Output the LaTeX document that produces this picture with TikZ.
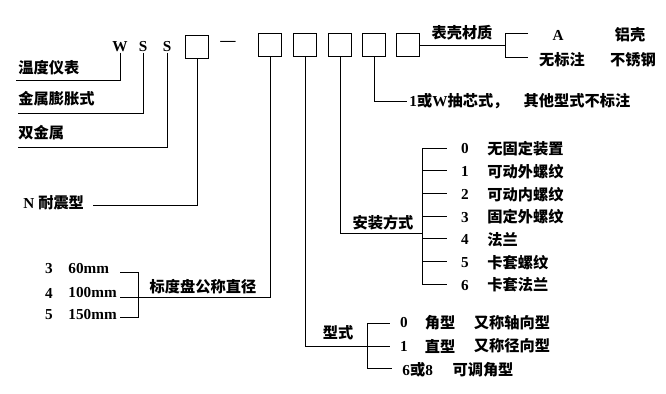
\documentclass[tikz,border=0pt]{standalone}
\usepackage{fontspec}
\setmainfont{Liberation Serif}
\newfontfamily\cjk{Noto Sans CJK SC}
\newcommand\zh[1]{{\cjk #1}}

\begin{document}
\begin{tikzpicture}[x=0.03cm,y=-0.03cm,line width=0.8pt,
  slot/.style={draw,minimum width=0.69cm,minimum height=0.68cm,inner sep=0pt},
  lbl/.style={inner sep=0pt,font=\fontsize{13}{15}\selectfont\bfseries}]
\useasboundingbox (0,0) rectangle (666,394);

% model code
\node[lbl] (w) at (120,47) {W};
\node[lbl] (s1) at (143,47) {S};
\node[lbl] (s2) at (167,47) {S};
\node[slot] (b0) at (197,47) {};
\node[lbl] (dash) at (228,43) {—};
\foreach \i/\x in {1/270,2/305,3/340,4/374,5/408}
  \node[slot] (b\i) at (\x,45) {};

% left side
\node[lbl,anchor=west] (wdyb) at (18,68) {\zh{温度仪表}};
\node[lbl,anchor=west] (jspz) at (18,99) {\zh{金属膨胀式}};
\node[lbl,anchor=west] (sjs) at (18,133) {\zh{双金属}};
\coordinate (c1) at (16,80);
\coordinate (c2) at (18,113);
\coordinate (c3) at (18,147);
\draw (w.south) |- (c1);
\draw (s1.south) |- (c2);
\draw (s2.south) |- (c3);

\node[lbl,anchor=west] (nzx) at (23,203) {N\ \zh{耐震型}};
\coordinate (nzxe) at (93,205);
\draw (b0.south) |- (nzxe);

% dial size
\node[lbl] (bdp) at (203,287) {\zh{标度盘公称直径}};
\foreach \n/\d/\y [count=\i from 0] in {3/60/269,4/100/293,5/150/315}{
  \node[lbl] (dn\i) at (49,\y) {\n};
  \node[lbl,anchor=west] (dd\i) at (68,\y) {\d mm};
}
\coordinate (dl0) at (120,272);
\coordinate (dl1) at (120,297);
\coordinate (dl2) at (120,317);
\coordinate (db0) at (138,272);
\coordinate (db2) at (138,317);
\draw (dl0) -- (db0) -- (db2) -- (dl2);
\draw (b1.south) |- (dl1);

% type
\node[lbl] (xs) at (338,333) {\zh{型式}};
\node[lbl] (t0) at (404,323) {0};
\node[lbl] (t0a) at (440,323) {\zh{角型}};
\node[lbl] (t0b) at (512,323) {\zh{又称轴向型}};
\node[lbl] (t1) at (404,346) {1};
\node[lbl] (t1a) at (440,346) {\zh{直型}};
\node[lbl] (t1b) at (512,346) {\zh{又称径向型}};
\node[lbl,anchor=west] (t6) at (402,370) {6\zh{或}8};
\node[lbl] (t6a) at (483,370) {\zh{可调角型}};
\coordinate (tb0) at (367,323);
\coordinate (tb1) at (367,368);
\draw (tb0) -- (tb1);
\draw[shorten >=0.3cm] (tb0) -- (t0.west);
\draw[shorten >=0.3cm] (tb1) -- (t6.west |- tb1);
\draw[shorten >=0.3cm] (b2.south) |- (t1.west);

% mounting
\node[lbl] (azfs) at (383,223) {\zh{安装方式}};
\foreach \n/\t [count=\i from 0] in {0/无固定装置,1/可动外螺纹,2/可动内螺纹,3/固定外螺纹,4/法兰,5/卡套螺纹,6/卡套法兰}{
  \coordinate (mb\i) at (422,148+22.7*\i);
  \node[lbl] (m\i) at (465,149+22.7*\i) {\n};
  \node[lbl,anchor=west] (mt\i) at (487,149+22.7*\i) {\zh{\t}};
  \draw[shorten >=0.42cm] (mb\i) -- (m\i.west |- mb\i);
}
\draw (mb0) -- (mb6);
\coordinate (mc) at (422,233);
\draw (b3.south) |- (mc);

% core
\node[lbl,anchor=west] (cx) at (409,101) {1\zh{或}W\zh{抽芯式，}\quad\zh{其他型式不标注}};
\draw[shorten >=2pt] (b4.south) |- (cx.west);

% case material
\node[lbl] (kcz) at (462,33) {\zh{表壳材质}};
\coordinate (ca) at (505,33);
\coordinate (cb) at (505,45);
\coordinate (cc) at (505,57);
\coordinate (cae) at (528,33);
\coordinate (cce) at (528,57);
\draw (b5.east) -- (cb);
\draw (cae) -- (ca) -- (cc) -- (cce);
\node[lbl] (ka) at (558,35) {A};
\node[lbl] (kal) at (630,35) {\zh{铝壳}};
\node[lbl] (kn) at (562,60) {\zh{无标注}};
\node[lbl] (kss) at (633,60) {\zh{不锈钢}};
\end{tikzpicture}
\end{document}
